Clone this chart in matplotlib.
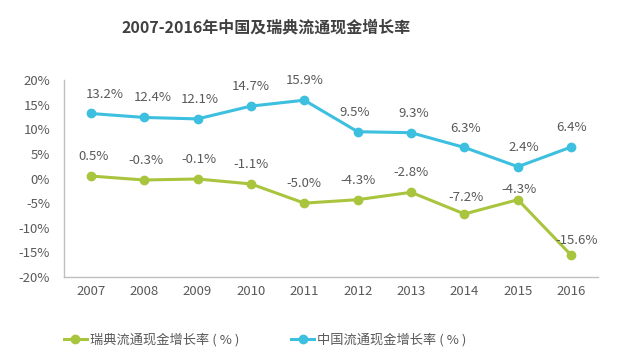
import matplotlib
matplotlib.use('Agg')
import matplotlib.pyplot as plt
from matplotlib.ticker import FuncFormatter

plt.rcParams['font.family'] = ['Noto Sans CJK SC', 'DejaVu Sans']

years  = ['2007', '2008', '2009', '2010', '2011', '2012', '2013', '2014', '2015', '2016']
sweden = [0.5, -0.3, -0.1, -1.1, -5.0, -4.3, -2.8, -7.2, -4.3, -15.6]
china  = [13.2, 12.4, 12.1, 14.7, 15.9, 9.5, 9.3, 6.3, 2.4, 6.4]

title      = '2007-2016年中国及瑞典流通现金增长率'
label_swe  = '瑞典流通现金增长率 ( % )'
label_chn  = '中国流通现金增长率 ( % )'

c_green = '#a9c43d'
c_blue  = '#3dbfdf'
c_text  = '#595959'

fig = plt.figure(figsize=(6.22, 3.63), dpi=100)
ax = fig.add_axes([0.1029, 0.2369, 0.8585, 0.5427])

x = range(len(years))
ax.plot(x, sweden, color=c_green, linewidth=2.2, marker='o', markersize=6, label=label_swe)
ax.plot(x, china,  color=c_blue,  linewidth=2.2, marker='o', markersize=6, label=label_chn)

# data labels
chn_dx = [10, 6, 2, 0, 0, -2, 2, 1, 4, 0]
for i, v in enumerate(china):
    ax.annotate(f'{v:.1f}%', (i, v), xytext=(chn_dx[i], 14), textcoords='offset points',
                ha='center', va='center', fontsize=9.5, color=c_text)
swe_dy = [14, 14, 14, 14, 14, 14, 14, 12, 7, 11]
swe_dx = [2, 1, 1, 0, 0, 0, 0, 1, 1, 4]
for i, v in enumerate(sweden):
    ax.annotate(f'{v:.1f}%', (i, v), xytext=(swe_dx[i], swe_dy[i]), textcoords='offset points',
                ha='center', va='center', fontsize=9.5, color=c_text)

ax.set_xlim(-0.5, len(years) - 0.5)
ax.set_ylim(-20, 20)
ax.set_yticks(range(-20, 21, 5))
ax.yaxis.set_major_formatter(FuncFormatter(lambda v, p: f'{v:.0f}%'))
ax.set_xticks(list(x))
ax.set_xticklabels(years)
ax.tick_params(axis='both', length=0, labelsize=9.5, labelcolor=c_text)
ax.tick_params(axis='y', pad=10)
ax.tick_params(axis='x', pad=6)

for s in ['top', 'right']:
    ax.spines[s].set_visible(False)
for s in ['left', 'bottom']:
    ax.spines[s].set_color('#bfbfbf')
    ax.spines[s].set_linewidth(1.0)

fig.text(0.428, 0.925, title, ha='center', va='center', fontsize=11.5,
         fontweight='bold', color='#404040')

fig.legend(loc='center left', bbox_to_anchor=(0.083, 0.063), ncol=2, frameon=False,
           fontsize=9.5, labelcolor=c_text, handlelength=1.8, handletextpad=0.2,
           columnspacing=3.9)

fig.savefig('out.png', dpi=100, facecolor='white')
